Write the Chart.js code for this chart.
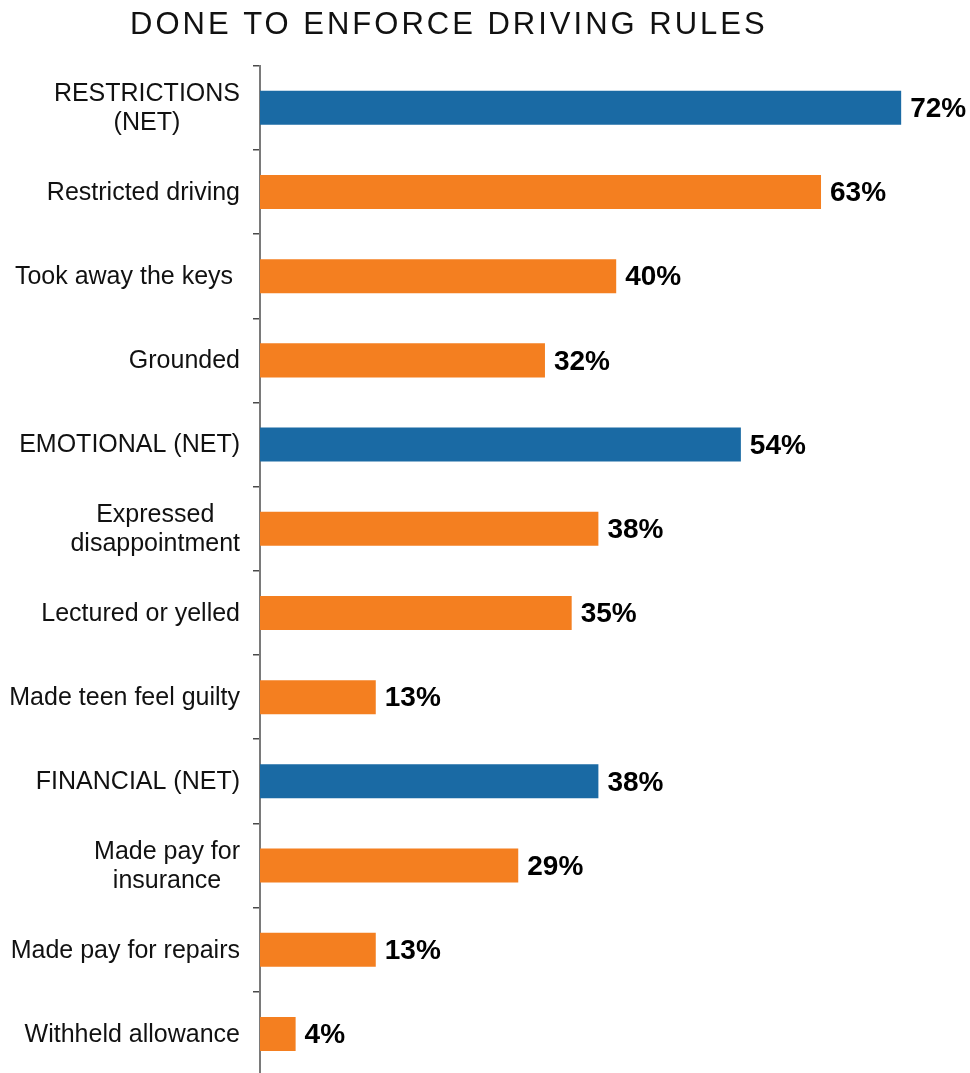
<!DOCTYPE html>
<html>
<head>
<meta charset="utf-8">
<title>Done to enforce driving rules</title>
<script src="https://cdn.jsdelivr.net/npm/chart.js@4/dist/chart.umd.min.js"></script>
<style>
  html, body { margin: 0; padding: 0; background: #ffffff; }
  #wrap { width: 970px; height: 1073px; overflow: hidden; position: relative; }
  canvas { display: block; }
</style>
</head>
<body>
<div id="wrap"><canvas id="chart" width="970" height="1090"></canvas></div>
<script>
// Survey answers: what parents did to enforce driving rules (% of parents)
const chartTitle = 'DONE TO ENFORCE DRIVING RULES';

const categories = [
  ['RESTRICTIONS', '(NET)'],
  'Restricted driving',
  'Took away the keys ',
  'Grounded',
  'EMOTIONAL (NET)',
  ['Expressed', 'disappointment'],
  'Lectured or yelled',
  'Made teen feel guilty',
  'FINANCIAL (NET)',
  ['Made pay for', 'insurance'],
  'Made pay for repairs',
  'Withheld allowance'
];

const percentages = [72, 63, 40, 32, 54, 38, 35, 13, 38, 29, 13, 4];

// 'net' rows are group totals, 'item' rows are the answers inside a group
const rowKinds = ['net', 'item', 'item', 'item', 'net', 'item', 'item', 'item', 'net', 'item', 'item', 'item'];

const kindColors = { net: '#1a6aa4', item: '#f47f20' };

const LABEL_FONT = '25px "Liberation Sans", Arial, sans-serif';
const VALUE_FONT = 'bold 28px "Liberation Sans", Arial, sans-serif';

// Title, left-aligned with a little extra tracking
const titlePlugin = {
  id: 'spacedTitle',
  afterDraw(chart) {
    const ctx = chart.ctx;
    ctx.save();
    ctx.font = '31px "Liberation Sans", Arial, sans-serif';
    ctx.fillStyle = '#111111';
    ctx.textAlign = 'left';
    ctx.textBaseline = 'alphabetic';
    if ('letterSpacing' in ctx) ctx.letterSpacing = '3px';
    ctx.fillText(chartTitle, 130, 33.5);
    if ('letterSpacing' in ctx) ctx.letterSpacing = '0px';
    ctx.restore();
  }
};

// Category names left of the axis; wrapped names are centred as a block
const categoryLabelPlugin = {
  id: 'categoryLabels',
  afterDraw(chart) {
    const ctx = chart.ctx;
    const yScale = chart.scales.y;
    const rightEdge = yScale.right - 20;
    const lineHeight = 29.5;
    ctx.save();
    ctx.font = LABEL_FONT;
    ctx.fillStyle = '#111111';
    ctx.textBaseline = 'middle';
    categories.forEach((label, i) => {
      const lines = Array.isArray(label) ? label : [label];
      const yMid = yScale.getPixelForValue(i) + 1;
      const startY = yMid - (lines.length - 1) * lineHeight / 2;
      if (lines.length === 1) {
        ctx.textAlign = 'right';
        ctx.fillText(lines[0], rightEdge, startY);
      } else {
        const widest = Math.max(...lines.map(l => ctx.measureText(l).width));
        ctx.textAlign = 'center';
        lines.forEach((l, k) => ctx.fillText(l, rightEdge - widest / 2, startY + k * lineHeight));
      }
    });
    ctx.restore();
  }
};

// Percentage value printed just past the end of each bar
const valueLabelPlugin = {
  id: 'valueLabels',
  afterDatasetsDraw(chart) {
    const ctx = chart.ctx;
    const meta = chart.getDatasetMeta(0);
    ctx.save();
    ctx.font = VALUE_FONT;
    ctx.fillStyle = '#000000';
    ctx.textAlign = 'left';
    ctx.textBaseline = 'middle';
    meta.data.forEach((bar, i) => {
      ctx.fillText(percentages[i] + '%', bar.x + 9, bar.y + 1.5);
    });
    ctx.restore();
  }
};

new Chart(document.getElementById('chart'), {
  type: 'bar',
  data: {
    labels: categories,
    datasets: [{
      data: percentages,
      backgroundColor: rowKinds.map(k => kindColors[k]),
      borderWidth: 0,
      categoryPercentage: 0.404,
      barPercentage: 1
    }]
  },
  options: {
    indexAxis: 'y',
    responsive: false,
    animation: false,
    devicePixelRatio: 1,
    layout: { padding: { top: 65.7, bottom: 14, left: 0, right: 6.5 } },
    plugins: {
      legend: { display: false },
      title: { display: false },
      tooltip: { enabled: false }
    },
    scales: {
      x: {
        display: false,
        min: 0,
        max: 79
      },
      y: {
        type: 'category',
        afterFit(scale) { scale.width = 260; },
        ticks: { display: false },
        grid: {
          display: true,
          drawOnChartArea: false,
          drawTicks: true,
          tickLength: 7,
          offset: true,
          color: '#4a4a4a',
          lineWidth: 1.5
        },
        border: { display: true, color: '#7a7a7a', width: 2 }
      }
    }
  },
  plugins: [titlePlugin, categoryLabelPlugin, valueLabelPlugin]
});
</script>
</body>
</html>
